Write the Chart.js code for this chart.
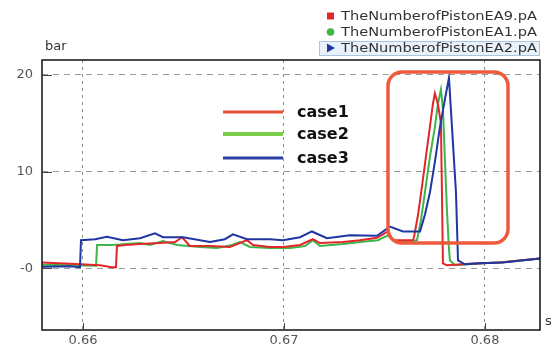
<!DOCTYPE html>
<html>
<head>
<meta charset="utf-8">
<script src="https://cdn.jsdelivr.net/npm/chart.js@4.4.1/dist/chart.umd.min.js"></script>
<style>
  html, body { margin: 0; padding: 0; background: #fff; }
  #wrap { width: 553px; height: 347px; position: relative; }
</style>
</head>
<body>
<div id="wrap"><canvas id="chart" width="553" height="347"></canvas></div>
<script>
// time (s) and pressure (bar)
const redT = [0.65796, 0.65935, 0.66085, 0.66144, 0.66164, 0.66169, 0.66209, 0.66284, 0.66383, 0.66458, 0.66493, 0.66532, 0.66632, 0.66731, 0.66816, 0.66846, 0.66930, 0.66995, 0.67080, 0.67144, 0.67179, 0.67294, 0.67378, 0.67463, 0.67517, 0.67542, 0.67642, 0.67647, 0.67667, 0.67687, 0.67706, 0.67726, 0.67741, 0.67751, 0.67766, 0.67781, 0.67786, 0.67791, 0.67811, 0.67925, 0.68075, 0.68274];
const redP = [0.6, 0.45, 0.3, 0.1, 0.1, 2.3, 2.4, 2.5, 2.6, 2.7, 3.2, 2.3, 2.3, 2.2, 2.9, 2.4, 2.2, 2.2, 2.4, 3.0, 2.6, 2.7, 2.9, 3.15, 3.8, 2.9, 2.9, 3.2, 5.5, 8.5, 11.5, 14.6, 17.0, 18.1, 17.0, 15.0, 8.0, 0.5, 0.3, 0.45, 0.6, 1.0];

const greenT = [0.65796, 0.65935, 0.66065, 0.66070, 0.66134, 0.66184, 0.66284, 0.66333, 0.66398, 0.66468, 0.66582, 0.66667, 0.66741, 0.66781, 0.66831, 0.66930, 0.67030, 0.67104, 0.67144, 0.67179, 0.67294, 0.67378, 0.67468, 0.67517, 0.67562, 0.67627, 0.67662, 0.67682, 0.67701, 0.67726, 0.67751, 0.67766, 0.67781, 0.67791, 0.67801, 0.67811, 0.67821, 0.67826, 0.67851, 0.67950, 0.68100, 0.68274];
const greenP = [0.35, 0.3, 0.25, 2.4, 2.4, 2.45, 2.6, 2.4, 2.8, 2.4, 2.2, 2.1, 2.4, 2.7, 2.2, 2.1, 2.1, 2.3, 2.9, 2.3, 2.5, 2.7, 2.9, 3.4, 2.7, 2.7, 2.9, 5.0, 7.8, 11.5, 14.6, 17.0, 18.5, 16.5, 11.2, 6.0, 2.0, 0.8, 0.3, 0.45, 0.65, 1.0];

const blueT = [0.65796, 0.65935, 0.65985, 0.65990, 0.66060, 0.66119, 0.66199, 0.66284, 0.66358, 0.66398, 0.66498, 0.66632, 0.66706, 0.66746, 0.66816, 0.66930, 0.66995, 0.67080, 0.67139, 0.67214, 0.67328, 0.67463, 0.67527, 0.67592, 0.67677, 0.67701, 0.67726, 0.67751, 0.67776, 0.67801, 0.67821, 0.67836, 0.67856, 0.67866, 0.67900, 0.67975, 0.68090, 0.68274];
const blueP = [0.15, 0.2, 0.1, 2.9, 3.0, 3.25, 2.9, 3.1, 3.6, 3.2, 3.2, 2.7, 3.0, 3.5, 3.0, 3.0, 2.9, 3.2, 3.8, 3.1, 3.4, 3.35, 4.3, 3.8, 3.8, 5.5, 7.8, 11.0, 14.6, 17.5, 19.7, 14.6, 7.8, 0.8, 0.4, 0.5, 0.6, 1.0];

const seriesNames = ["TheNumberofPistonEA9.pA", "TheNumberofPistonEA1.pA", "TheNumberofPistonEA2.pA"];
const caseNames = ["case1", "case2", "case3"];
const xTicks = [0.66, 0.67, 0.68];
const yTicks = [0, 10, 20];

const lineColors = ["#e3262a", "#3cb54a", "#1f36a3"];
const caseColors = ["#e8503a", "#7ccc4c", "#2c3fa5"];

function pts(t, p) {
  return t.map(function (v, i) { return { x: v, y: p[i] }; });
}

const overlay = {
  id: "overlay",
  afterDatasetsDraw(chart) {
    const ctx = chart.ctx;
    const a = chart.chartArea;
    const xs = chart.scales.x, ys = chart.scales.y;
    ctx.save();

    // plot frame
    ctx.strokeStyle = "#111";
    ctx.lineWidth = 1.5;
    ctx.strokeRect(a.left, a.top, a.right - a.left, a.bottom - a.top);

    // inner tick marks
    ctx.lineWidth = 1;
    ctx.strokeStyle = "#444";
    yTicks.forEach(function (v) {
      const y = Math.round(ys.getPixelForValue(v)) + 0.5;
      ctx.beginPath(); ctx.moveTo(a.left, y); ctx.lineTo(a.left + 10, y); ctx.stroke();
    });
    xTicks.forEach(function (v) {
      const x = Math.round(xs.getPixelForValue(v)) + 0.5;
      ctx.beginPath(); ctx.moveTo(x, a.bottom); ctx.lineTo(x, a.bottom - 7); ctx.stroke();
    });

    // highlight box round the peaks
    ctx.strokeStyle = "#ef5a3c";
    ctx.lineWidth = 3.5;
    ctx.beginPath();
    ctx.roundRect(388, 72, 120, 171, 14);
    ctx.stroke();

    // case legend inside the plot
    const cy = [112, 134, 158];
    const cw = [3, 4, 3];
    ctx.font = "bold 16px 'DejaVu Sans'";
    ctx.textBaseline = "middle";
    ctx.textAlign = "left";
    caseNames.forEach(function (n, i) {
      ctx.strokeStyle = caseColors[i];
      ctx.lineWidth = cw[i];
      ctx.beginPath(); ctx.moveTo(223, cy[i]); ctx.lineTo(283, cy[i]); ctx.stroke();
      ctx.fillStyle = "#111";
      ctx.fillText(n, 297, cy[i] + 1);
    });

    // series legend top right
    const ly = [16, 32, 48];
    ctx.fillStyle = "#e9f2fb";
    ctx.fillRect(319.5, 41.5, 220, 14);
    ctx.strokeStyle = "#a9c4dc";
    ctx.lineWidth = 1;
    ctx.strokeRect(319.5, 41.5, 220, 14);
    ctx.font = "13px 'DejaVu Sans'";
    seriesNames.forEach(function (n, i) {
      ctx.fillStyle = lineColors[i];
      if (i === 0) {
        ctx.fillRect(327, ly[i] - 3.5, 7, 7);
      } else if (i === 1) {
        ctx.beginPath(); ctx.arc(330.5, ly[i], 3.8, 0, Math.PI * 2); ctx.fill();
      } else {
        ctx.beginPath();
        ctx.moveTo(327, ly[i] - 4.5); ctx.lineTo(335, ly[i]); ctx.lineTo(327, ly[i] + 4.5);
        ctx.closePath(); ctx.fill();
      }
      // stretch text to the wider look of the original font
      const w = ctx.measureText(n).width;
      ctx.save();
      ctx.translate(341, ly[i] + 1);
      ctx.scale(196 / w, 1);
      ctx.fillStyle = "#333";
      ctx.fillText(n, 0, 0);
      ctx.restore();
    });

    // axis units
    ctx.fillStyle = "#333";
    ctx.font = "13px 'DejaVu Sans'";
    ctx.fillText("bar", 45, 47);
    ctx.fillText("s", 545, 322);
    ctx.restore();
  }
};

new Chart(document.getElementById("chart"), {
  type: "line",
  data: {
    datasets: [
      { label: seriesNames[2], data: pts(blueT, blueP), borderColor: lineColors[2], order: 1 },
      { label: seriesNames[0], data: pts(redT, redP), borderColor: lineColors[0], order: 2 },
      { label: seriesNames[1], data: pts(greenT, greenP), borderColor: lineColors[1], order: 3 }
    ]
  },
  options: {
    responsive: false,
    animation: false,
    events: [],
    elements: {
      point: { radius: 0 },
      line: { borderWidth: 2, tension: 0 }
    },
    layout: { padding: { top: 60, right: 13, left: 0, bottom: 0 } },
    plugins: {
      legend: { display: false },
      tooltip: { enabled: false }
    },
    scales: {
      x: {
        type: "linear",
        min: 0.65796,
        max: 0.68274,
        afterBuildTicks: function (s) { s.ticks = xTicks.map(function (v) { return { value: v }; }); },
        afterFit: function (s) { s.height = 17; },
        grid: { color: "#8a8a8a", drawTicks: false, lineWidth: 1 },
        border: { display: false, dash: [3, 4] },
        ticks: {
          padding: 3,
          color: "#555",
          font: { family: "DejaVu Sans", size: 13 },
          maxRotation: 0,
          callback: function (v) { return v.toFixed(2); }
        }
      },
      y: {
        min: -6.4,
        max: 21.55,
        afterBuildTicks: function (s) { s.ticks = yTicks.map(function (v) { return { value: v }; }); },
        afterFit: function (s) { s.width = 42; },
        grid: { color: "#9a9a9a", drawTicks: false, lineWidth: 1 },
        border: { display: false, dash: [6, 5] },
        ticks: {
          padding: 9,
          color: "#555",
          font: { family: "DejaVu Sans", size: 13 },
          callback: function (v) { return v === 0 ? "-0" : String(v); }
        }
      }
    }
  },
  plugins: [overlay]
});
</script>
</body>
</html>
